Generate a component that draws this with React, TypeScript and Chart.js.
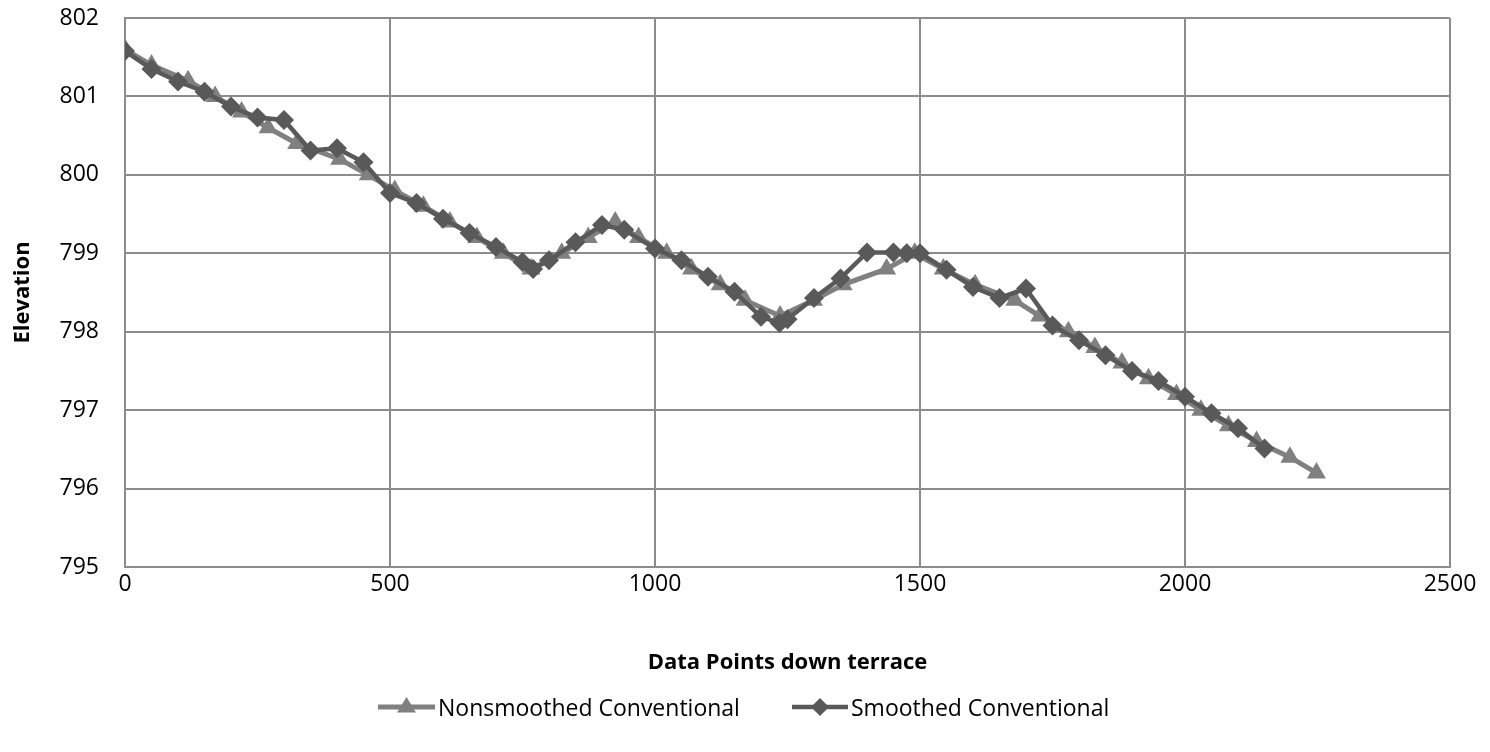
import React, { useEffect, useRef } from "react";
import { Chart, registerables } from "chart.js";

Chart.register(...registerables);

// ---- Data ----
const nonsmoothedX = [
  0, 50, 119, 170, 220, 270, 324, 405, 459, 509, 563, 613, 664, 714, 766, 824,
  874, 925, 969, 1022, 1069, 1123, 1170, 1236, 1299, 1355, 1437, 1490, 1544,
  1604, 1679, 1726, 1780, 1830, 1881, 1931, 1984, 2030, 2082, 2135, 2198, 2248,
];
const nonsmoothedY = [
  801.6, 801.4, 801.2, 801.0, 800.8, 800.6, 800.4, 800.2, 800.0, 799.8, 799.6,
  799.4, 799.2, 799.0, 798.8, 799.0, 799.2, 799.4, 799.2, 799.0, 798.8, 798.6,
  798.4, 798.2, 798.4, 798.6, 798.8, 799.0, 798.8, 798.6, 798.4, 798.2, 798.0,
  797.8, 797.6, 797.4, 797.2, 797.0, 796.8, 796.6, 796.4, 796.2,
];
const smoothedX = [
  0, 50, 100, 150, 200, 250, 300, 350, 400, 450, 500, 550, 600, 650, 700, 750,
  770, 800, 850, 900, 942, 1000, 1050, 1100, 1150, 1200, 1235, 1250, 1300, 1350,
  1400, 1450, 1475, 1500, 1550, 1600, 1650, 1700, 1750, 1800, 1850, 1900, 1950,
  2000, 2050, 2100, 2150,
];
const smoothedY = [
  801.58, 801.35, 801.19, 801.06, 800.87, 800.73, 800.7, 800.31, 800.34, 800.16,
  799.77, 799.64, 799.44, 799.26, 799.08, 798.89, 798.8, 798.91, 799.14, 799.36,
  799.3, 799.06, 798.91, 798.7, 798.51, 798.19, 798.11, 798.16, 798.43, 798.68,
  799.01, 799.01, 799.0, 799.0, 798.79, 798.57, 798.43, 798.55, 798.08, 797.89,
  797.7, 797.5, 797.37, 797.17, 796.96, 796.77, 796.51,
];
const seriesNames = ["Nonsmoothed Conventional", "Smoothed Conventional"];
const xAxisTitle = "Data Points down terrace";
const yAxisTitle = "Elevation";
const xMin = 0;
const xMax = 2500;
const xStep = 500;
const yMin = 795;
const yMax = 802;
const yStep = 1;

const LIGHT = "#808080";
const DARK = "#595959";
const GRID = "#8c8c8c";
const FONT = "'Open Sans', sans-serif";

function TriangleIcon() {
  const c = 28.5;
  return (
    <svg width={57} height={24} style={{ display: "block" }}>
      <line x1={0} y1={12} x2={57} y2={12} stroke={LIGHT} strokeWidth={5} />
      <polygon
        points={`${c},2 ${c + 9.5},17.5 ${c - 9.5},17.5`}
        fill={LIGHT}
      />
    </svg>
  );
}

function DiamondIcon() {
  const c = 28;
  return (
    <svg width={56} height={24} style={{ display: "block" }}>
      <line x1={0} y1={12} x2={56} y2={12} stroke={DARK} strokeWidth={4.5} />
      <polygon
        points={`${c},3 ${c + 9},12 ${c},21 ${c - 9},12`}
        fill={DARK}
      />
    </svg>
  );
}

export default function App() {
  const canvasRef = useRef<HTMLCanvasElement | null>(null);

  useEffect(() => {
    document.body.style.margin = "0";
    const canvas = canvasRef.current;
    if (!canvas) return;
    const chart = new Chart(canvas, {
      type: "scatter",
      data: {
        datasets: [
          {
            label: seriesNames[0],
            data: nonsmoothedX.map((x, i) => ({ x, y: nonsmoothedY[i] })),
            showLine: true,
            borderColor: LIGHT,
            borderWidth: 5,
            backgroundColor: LIGHT,
            pointStyle: "triangle",
            pointRadius: 11,
            pointBorderWidth: 0,
            pointBackgroundColor: LIGHT,
            pointBorderColor: LIGHT,
            order: 1,
          },
          {
            label: seriesNames[1],
            data: smoothedX.map((x, i) => ({ x, y: smoothedY[i] })),
            showLine: true,
            borderColor: DARK,
            borderWidth: 4.5,
            backgroundColor: DARK,
            pointStyle: "rectRot",
            pointRadius: 10,
            pointBorderWidth: 0,
            pointBackgroundColor: DARK,
            pointBorderColor: DARK,
            order: 0,
          },
        ],
      },
      options: {
        responsive: false,
        animation: false,
        layout: { padding: { top: 18, right: 40, bottom: 70, left: 0 } },
        plugins: {
          legend: { display: false },
          tooltip: { enabled: false },
        },
        scales: {
          x: {
            type: "linear",
            min: xMin,
            max: xMax,
            ticks: {
              stepSize: xStep,
              color: "#000",
              font: { family: FONT, size: 23 },
              padding: 4,
              maxRotation: 0,
              callback: (v: any) => String(v),
            },
            grid: { color: GRID, lineWidth: 2, drawTicks: false },
            border: { color: GRID, width: 2 },
            title: {
              display: true,
              text: xAxisTitle,
              color: "#000",
              font: { family: FONT, size: 22, weight: "bold" },
              padding: { top: 0, bottom: 6 },
            },
            afterFit: (scale: any) => {
              scale.height = 115;
            },
          },
          y: {
            type: "linear",
            min: yMin,
            max: yMax,
            ticks: {
              stepSize: yStep,
              color: "#000",
              font: { family: FONT, size: 23 },
              padding: 0,
              callback: (v: any) => String(v),
            },
            grid: {
              color: GRID,
              lineWidth: 2,
              drawTicks: true,
              tickLength: 26,
              tickColor: "rgba(0,0,0,0)",
            },
            border: { color: GRID, width: 2 },
            title: {
              display: true,
              text: yAxisTitle,
              color: "#000",
              font: { family: FONT, size: 22, weight: "bold" },
              padding: { top: 10, bottom: 0 },
            },
            afterFit: (scale: any) => {
              scale.width = 125;
            },
          },
        },
      },
    });
    return () => chart.destroy();
  }, []);

  const legendText: React.CSSProperties = {
    fontFamily: FONT,
    fontSize: 23,
    color: "#000",
    lineHeight: "24px",
    whiteSpace: "nowrap",
    marginLeft: 3,
  };

  return (
    <div style={{ position: "relative", width: 1490, height: 752, background: "#fff" }}>
      <canvas ref={canvasRef} width={1490} height={752} style={{ display: "block" }} />
      <div style={{ position: "absolute", left: 378, top: 695, display: "flex", alignItems: "center" }}>
        <TriangleIcon />
        <span style={legendText}>{seriesNames[0]}</span>
      </div>
      <div style={{ position: "absolute", left: 792, top: 695, display: "flex", alignItems: "center" }}>
        <DiamondIcon />
        <span style={legendText}>{seriesNames[1]}</span>
      </div>
    </div>
  );
}
